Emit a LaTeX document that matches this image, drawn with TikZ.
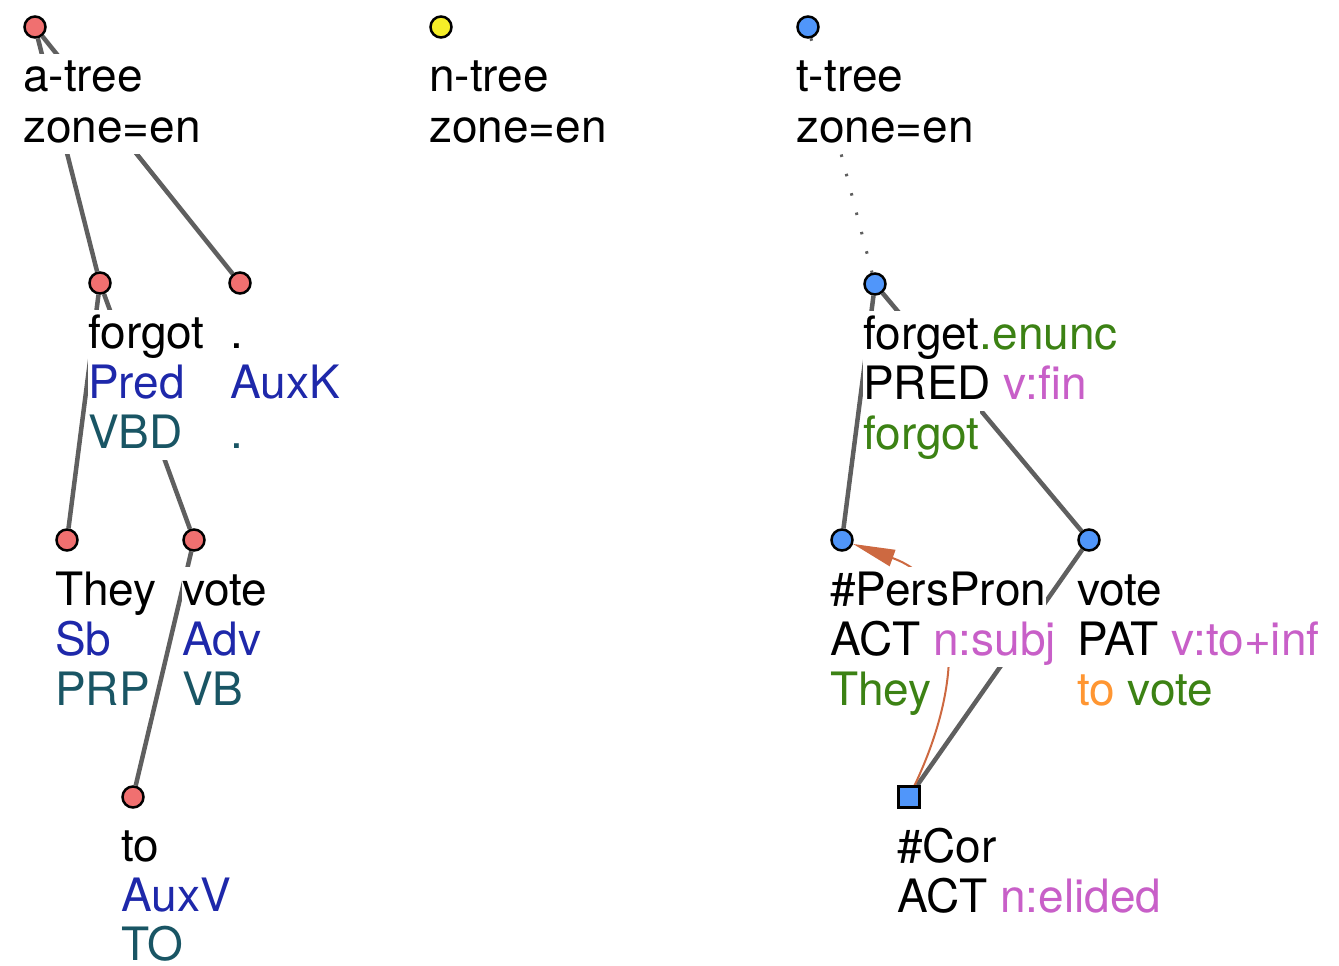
\documentclass[tikz,border=0pt]{standalone}
\usepackage{fontspec}
\setmainfont{TeX Gyre Heros}
\usetikzlibrary{arrows.meta}
\pgfdeclarelayer{bg}
\pgfsetlayers{bg,main}
\definecolor{nred}{RGB}{240,112,112}
\definecolor{nyellow}{RGB}{245,238,40}
\definecolor{nblue}{RGB}{80,150,250}
\definecolor{egray}{RGB}{95,95,95}
\definecolor{afun}{RGB}{30,40,170}
\definecolor{tagc}{RGB}{25,85,100}
\definecolor{grn}{RGB}{60,130,20}
\definecolor{mag}{RGB}{200,95,200}
\definecolor{org}{RGB}{255,150,50}
\definecolor{corefc}{RGB}{205,105,65}
\begin{document}
\begin{tikzpicture}[x=1pt,y=-1pt,
  every node/.append style={font=\fontsize{46}{50}\selectfont},
  ln/.style={anchor=base west, inner sep=0pt, fill=white, text height=38pt, text depth=12pt},
  lastln/.style={ln, text depth=2pt},
  tnode/.style={circle, draw=black, line width=2.5pt, minimum size=21pt, inner sep=0pt},
  rnode/.style={tnode, fill=nred},
  ynode/.style={tnode, fill=nyellow},
  bnode/.style={tnode, fill=nblue},
  sqnode/.style={rectangle, draw=black, line width=2.5pt, fill=nblue, minimum size=21pt, inner sep=0pt},
  edge/.style={draw=egray, line width=4.5pt},
  dotedge/.style={draw=egray, line width=3pt, dash pattern=on 2.5pt off 17.5pt},
  coref/.style={draw=corefc, line width=2pt, -{Triangle[length=42pt,width=17pt]}}
]
\useasboundingbox (0,0) rectangle (1339,966);

% ---------- a-tree ----------
\node[ln] (a0l1) at (23,92) {a-tree};
\node[ln] (a0l2) at (23,142) {zone=en};
\node[ln] (a1l1) at (88,348) {forgot};
\node[ln] (a1l2) at (88,398) {\color{afun}Pred};
\node[ln] (a1l3) at (88,448) {\color{tagc}VBD};
\node[ln] (a2l1) at (230,348) {.};
\node[ln] (a2l2) at (230,398) {\color{afun}AuxK};
\node[ln] (a2l3) at (230,448) {\color{tagc}.};
\node[ln] (a3l1) at (55,605) {They};
\node[ln] (a3l2) at (55,655) {\color{afun}Sb};
\node[ln] (a3l3) at (55,705) {\color{tagc}PRP};
\node[ln] (a4l1) at (182,605) {vote};
\node[ln] (a4l2) at (182,655) {\color{afun}Adv};
\node[ln] (a4l3) at (182,705) {\color{tagc}VB};
\node[ln] (a5l1) at (121,861) {to};
\node[ln] (a5l2) at (121,911) {\color{afun}AuxV};
\node[lastln] (a5l3) at (121,960) {\color{tagc}TO};

% ---------- n-tree ----------
\node[ln] (n0l1) at (429,92) {n-tree};
\node[ln] (n0l2) at (429,142) {zone=en};

% ---------- t-tree ----------
\node[ln] (t0l1) at (796,92) {t-tree};
\node[ln] (t0l2) at (796,142) {zone=en};
\node[ln] (t1l1) at (863,349) {forget\textcolor{grn}{.enunc}};
\node[ln] (t1l2) at (863,399) {PRED \textcolor{mag}{v:fin}};
\node[ln] (t1l3) at (863,449) {\color{grn}forgot};
\node[ln] (t2l1) at (830,605) {\#PersPron};
\node[ln] (t2l2) at (830,655) {ACT \textcolor{mag}{n:subj}};
\node[ln] (t2l3) at (830,705) {\color{grn}They};
\node[ln] (t3l1) at (1077,605) {vote};
\node[ln] (t3l2) at (1077,655) {PAT \textcolor{mag}{v:to+inf}};
\node[ln] (t3l3) at (1077,705) {\textcolor{org}{to} \textcolor{grn}{vote}};
\node[ln] (t4l1) at (897,862) {\#Cor};
\node[ln] (t4l2) at (897,912) {ACT \textcolor{mag}{n:elided}};

% ---------- tree nodes ----------
\node[rnode] (A0) at (35,27) {};
\node[rnode] (A1) at (100,283) {};
\node[rnode] (A2) at (240,283) {};
\node[rnode] (A3) at (67,540) {};
\node[rnode] (A4) at (194,540) {};
\node[rnode] (A5) at (133,797) {};
\node[ynode] (N0) at (441,27) {};
\node[bnode] (T0) at (808,27) {};
\node[bnode] (T1) at (875,284) {};
\node[bnode] (T2) at (842,540) {};
\node[bnode] (T3) at (1089,540) {};
\node[sqnode] (T4) at (909,797) {};

% ---------- edges ----------
\begin{pgfonlayer}{bg}
\draw[edge] (A0) -- (A1);
\draw[edge] (A0) -- (A2);
\draw[edge] (A1) -- (A3);
\draw[edge] (A1) -- (A4);
\draw[edge] (A4) -- (A5);
\draw[dotedge] (T0) -- (T1);
\draw[edge] (T1) -- (T2);
\draw[edge] (T1) -- (T3);
\draw[edge] (T3) -- (T4);
\draw[coref] (T4) .. controls (960,690) and (968,585) .. (T2);
\end{pgfonlayer}
\end{tikzpicture}
\end{document}
